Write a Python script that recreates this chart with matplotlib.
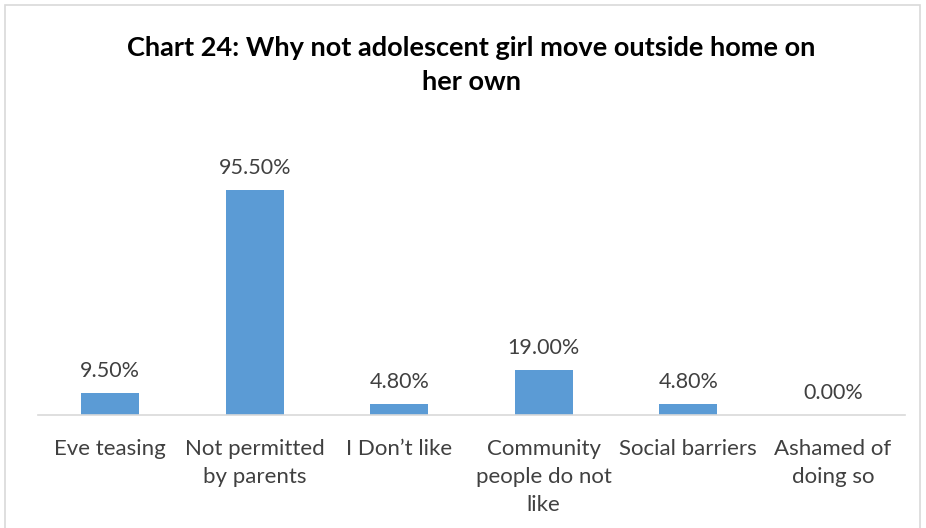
import matplotlib.pyplot as plt
from matplotlib.patches import Rectangle

categories = [
    "Eve teasing",
    "Not permitted\nby parents",
    "I Don\u2019t like",
    "Community\npeople do not\nlike",
    "Social barriers",
    "Ashamed of\ndoing so",
]
values = [9.5, 95.5, 4.8, 19.0, 4.8, 0.0]
title = "Chart 24: Why not adolescent girl move outside home on\nher own"

plt.rcParams["font.family"] = ["Lato", "DejaVu Sans"]

fig = plt.figure(figsize=(9.26, 5.28), dpi=100)
fig.patches.append(
    Rectangle((5 / 926, -0.05), 915 / 926, 1.0 - 5 / 528 + 0.05,
              transform=fig.transFigure, fill=False, edgecolor="#d9d9d9", linewidth=1.2)
)

ax = fig.add_axes([38 / 926, 113 / 528, 867 / 926, 283 / 528])
x = range(len(categories))
bars = ax.bar(x, values, width=0.4, color="#5b9bd5")
for rect, v in zip(bars, values):
    ax.text(rect.get_x() + rect.get_width() / 2, v + 5, f"{v:.2f}%",
            ha="center", va="bottom", fontsize=15.5, color="#404040")

ax.set_xlim(-0.5, len(categories) - 0.5)
ax.set_ylim(0, 120)
ax.set_yticks([])
ax.set_xticks(list(x))
ax.set_xticklabels(categories, fontsize=16, color="#404040", linespacing=1.5)
ax.tick_params(axis="x", length=0, pad=17)
for side in ["top", "left", "right"]:
    ax.spines[side].set_visible(False)
ax.spines["bottom"].set_color("#d9d9d9")
ax.spines["bottom"].set_linewidth(1.2)

fig.text(471 / 926, 1 - 65 / 528, title, ha="center", va="center",
         fontsize=19.5, fontweight="bold", color="black", linespacing=1.45)

fig.savefig("out.png", dpi=100)
